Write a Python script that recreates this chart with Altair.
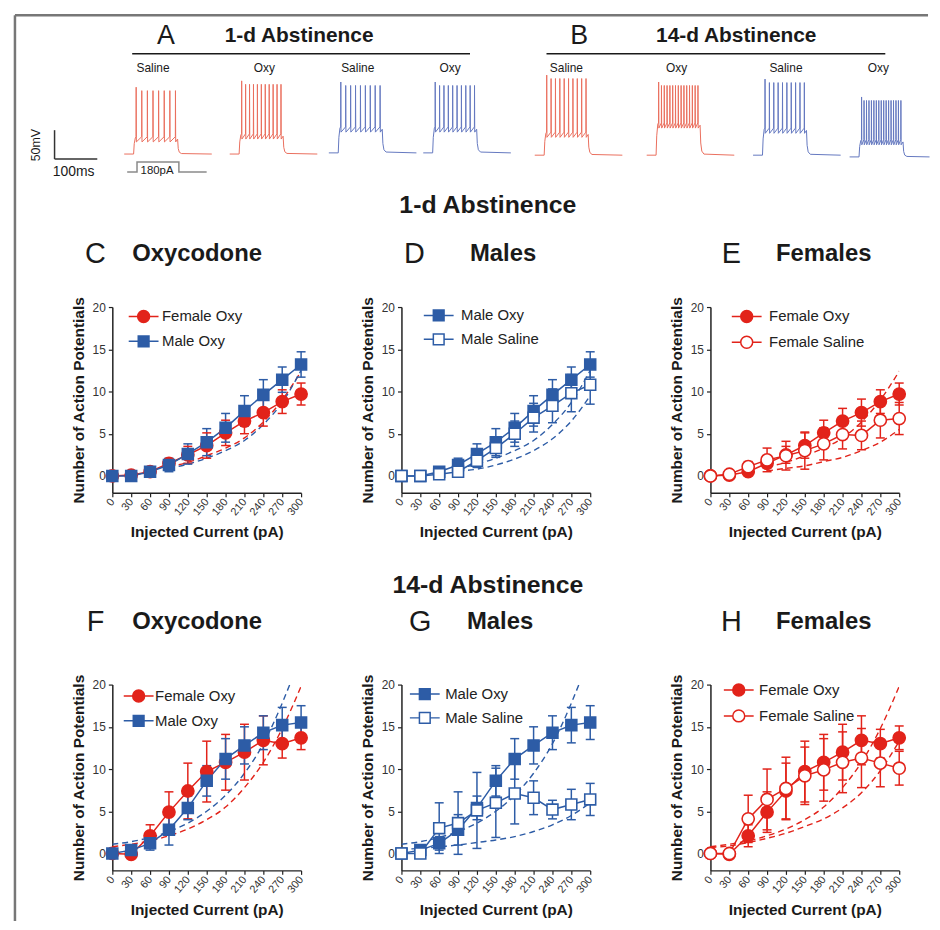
import altair as alt
import pandas as pd

FONT = "Liberation Sans"
RED = "#e2231a"
BLUE = "#2d5ca6"
TRACE_RED = "#ea6f5e"
TRACE_BLUE = "#6478bf"
INK = "#1a1a1a"

# ------------------------------------------------------------------ data
currents = [0, 30, 60, 90, 120, 150, 180, 210, 240, 270, 300]
y_ticks = [0, 5, 10, 15, 20]

# 1-d abstinence (mean, SEM)
f_oxy_1d = [0, 0.1, 0.5, 1.5, 2.5, 3.6, 5.1, 6.5, 7.5, 8.8, 9.7]
f_oxy_1d_sem = [0, 0.1, 0.3, 0.5, 1.0, 1.5, 1.5, 1.5, 1.6, 1.4, 1.3]
m_oxy_1d = [0, 0, 0.5, 1.3, 2.6, 4.0, 5.7, 7.7, 9.6, 11.4, 13.2]
m_oxy_1d_sem = [0, 0.1, 0.3, 0.8, 1.2, 1.6, 1.7, 1.8, 1.8, 1.5, 1.5]
m_sal_1d = [0, 0, 0.2, 0.5, 1.8, 3.3, 5.0, 6.9, 8.3, 9.8, 10.8]
m_sal_1d_sem = [0, 0, 0.2, 0.3, 0.8, 1.1, 1.5, 1.7, 2.0, 2.2, 2.3]
f_sal_1d = [0, 0.2, 1.1, 1.9, 2.4, 3.0, 3.8, 4.9, 4.8, 6.6, 6.8]
f_sal_1d_sem = [0, 0.1, 0.6, 1.4, 1.7, 2.2, 1.9, 1.7, 1.7, 2.1, 1.9]

# 14-d abstinence (mean, SEM)
f_oxy_14d = [0, -0.1, 2.1, 4.9, 7.4, 9.7, 10.8, 12.0, 13.4, 13.0, 13.7]
f_oxy_14d_sem = [0, 0.1, 1.3, 2.4, 3.3, 3.6, 3.3, 3.3, 2.9, 1.7, 1.4]
m_oxy_14d = [0, 0.4, 1.2, 2.8, 5.4, 8.6, 11.2, 12.8, 14.3, 15.2, 15.5]
m_oxy_14d_sem = [0, 0.2, 0.8, 1.8, 1.4, 1.8, 2.4, 2.2, 2.0, 2.1, 2.0]
m_sal_14d = [0, 0, 3.0, 3.6, 5.1, 6.0, 7.1, 6.6, 5.2, 5.8, 6.4]
m_sal_14d_sem = [0, 0, 3.0, 3.7, 4.5, 4.1, 3.6, 2.0, 1.1, 1.8, 1.9]
f_sal_14d = [0, 0, 4.1, 6.4, 7.7, 9.2, 9.9, 10.8, 11.3, 10.7, 10.1]
f_sal_14d_sem = [0, 0, 2.8, 3.6, 3.7, 3.4, 3.7, 3.6, 3.5, 2.8, 2.0]

# dashed fit curves
fit_x_1d = [90, 120, 150, 180, 210, 240, 270, 300]
f_oxy_1d_fit = [1.1, 1.6, 2.4, 3.3, 4.5, 6.4, 9.0, 12.4]
m_oxy_1d_fit = [0.9, 1.4, 2.1, 3.0, 4.2, 6.1, 8.7, 12.5]
m_sal_1d_fit = [0.6, 0.8, 1.3, 2.0, 3.0, 4.4, 6.5, 9.5]
f_sal_1d_fit = [0.6, 0.9, 1.2, 1.7, 2.2, 3.0, 4.0, 5.5]

fit_x_14d = [0, 30, 60, 90, 120, 150, 180, 210, 240, 270, 300]
f_oxy_14d_fit = [0.8, 1.1, 1.5, 2.1, 2.9, 4.0, 5.5, 7.8, 10.8, 14.8, 19.8]
m_oxy_14d_fit_x = [0, 30, 60, 90, 120, 150, 180, 210, 240, 270, 282]
m_oxy_14d_fit = [1.1, 1.4, 1.9, 2.6, 3.6, 5.0, 6.9, 9.5, 13.0, 17.8, 20.0]
m_sal_14d_fit = [0.5, 0.6, 0.8, 1.0, 1.3, 1.6, 2.0, 2.6, 3.4, 4.5, 6.0]
f_sal_14d_fit = [0.7, 0.9, 1.3, 1.8, 2.4, 3.2, 4.1, 5.4, 7.2, 9.8, 13.3]

trace_labels = ["Saline", "Oxy", "Saline", "Oxy", "Saline", "Oxy", "Saline", "Oxy"]
trace_sex = ["F", "F", "M", "M", "F", "F", "M", "M"]
trace_spikes = [8, 11, 9, 10, 10, 15, 10, 17]
trace_base_mv = [-70, -70, -68, -68, -72, -72, -72, -75]
trace_trough_mv = [-49, -44, -32, -32, -41, -25, -34, -54]
trace_peak_mv = [40, 51, 49, 49, 61, 49, 54, 23]
trace_start_ms = [265, 512, 744, 965, 1226, 1488, 1737, 1963]
trace_post_ms = [80, 80, 80, 80, 80, 80, 80, 62]
PRE_MS, STEP_MS = 22, 103

scalebar_ms = 100
scalebar_mv = 50
scalebar_anchor = (102, -78.6)

protocol_t_ms = [272, 295, 295, 393, 393, 458]
protocol_pa = [0, 0, 180, 180, 0, 0]

NAME = {"f_oxy": "Female Oxy", "m_oxy": "Male Oxy", "m_sal": "Male Saline", "f_sal": "Female Saline"}
STROKE = {"f_oxy": RED, "m_oxy": BLUE, "m_sal": BLUE, "f_sal": RED}
FILLC = {"f_oxy": RED, "m_oxy": BLUE, "m_sal": "white", "f_sal": "white"}
MARK = {"f_oxy": "circle", "m_oxy": "square", "m_sal": "square", "f_sal": "circle"}
CIRC_PATH = "M-2.5,0L-1,0M1,0L2.5,0M-1,0A1,1,0,1,0,1,0A1,1,0,1,0,-1,0Z"
SQ_PATH = "M-2.5,0L-0.9,0M0.9,0L2.5,0M-0.9,-0.9L0.9,-0.9L0.9,0.9L-0.9,0.9Z"
LPATH = {"circle": CIRC_PATH, "square": SQ_PATH}

DATA = {
    "1d": {"f_oxy": (f_oxy_1d, f_oxy_1d_sem), "m_oxy": (m_oxy_1d, m_oxy_1d_sem),
           "m_sal": (m_sal_1d, m_sal_1d_sem), "f_sal": (f_sal_1d, f_sal_1d_sem)},
    "14d": {"f_oxy": (f_oxy_14d, f_oxy_14d_sem), "m_oxy": (m_oxy_14d, m_oxy_14d_sem),
            "m_sal": (m_sal_14d, m_sal_14d_sem), "f_sal": (f_sal_14d, f_sal_14d_sem)},
}
FITS = {
    "1d": {"f_oxy": (fit_x_1d, f_oxy_1d_fit), "m_oxy": (fit_x_1d, m_oxy_1d_fit),
           "m_sal": (fit_x_1d, m_sal_1d_fit), "f_sal": (fit_x_1d, f_sal_1d_fit)},
    "14d": {"f_oxy": (fit_x_14d, f_oxy_14d_fit), "m_oxy": (m_oxy_14d_fit_x, m_oxy_14d_fit),
            "m_sal": (fit_x_14d, m_sal_14d_fit), "f_sal": (fit_x_14d, f_sal_14d_fit)},
}

# ------------------------------------------------------------------ panels
PW, PH = 190, 187
xs = alt.Scale(domain=[0, 300], nice=False, zero=False)
ys = alt.Scale(domain=[-2, 20], nice=False, zero=False)
xaxis = alt.Axis(values=currents, title="Injected Current (pA)", labelAngle=-50, labelAlign="right",
                 labelBaseline="middle", labelFont=FONT, labelFontSize=11, labelColor="#333",
                 labelOverlap=False, labelFlush=False, labelPadding=3, titleFont=FONT,
                 titleFontSize=15.5, titleFontWeight="bold", titleColor=INK, titlePadding=8,
                 domainColor="#222", domainWidth=1.5, tickColor="#222", tickWidth=1.2, tickSize=4,
                 grid=False)
yaxis = alt.Axis(values=y_ticks, title="Number of Action Potentials", labelFont=FONT, labelFontSize=12,
                 labelColor="#333", labelPadding=3, titleFont=FONT, titleFontSize=15.5,
                 titleFontWeight="bold", titleColor=INK, titlePadding=6, domainColor="#222",
                 domainWidth=1.5, tickColor="#222", tickWidth=1.2, tickSize=4, grid=False)


def panel(keys, day, legx, legy, loff):
    dom = [NAME[k] for k in keys]
    rows, caps, fits = [], [], []
    for k in keys:
        vals, sem = DATA[day][k]
        for c, v, e in zip(currents, vals, sem):
            rows.append({"series": NAME[k], "x": c, "y": v, "lo": v - e, "hi": v + e})
            if e > 0:
                caps.append({"series": NAME[k], "x": c, "y": v - e})
                caps.append({"series": NAME[k], "x": c, "y": v + e})
        fx, fy = FITS[day][k]
        for a, b in zip(fx, fy):
            fits.append({"series": NAME[k], "x": a, "y": b})
    pts, cap_df, fit_df = pd.DataFrame(rows), pd.DataFrame(caps), pd.DataFrame(fits)

    X = alt.X("x:Q", scale=xs, axis=xaxis)
    Y = alt.Y("y:Q", scale=ys, axis=yaxis)
    col = alt.Color("series:N", scale=alt.Scale(domain=dom, range=[STROKE[k] for k in keys]), legend=None)

    leg = alt.Legend(orient="none", legendX=legx, legendY=legy, title=None, labelFont=FONT,
                     labelFontSize=15, labelColor="#222", symbolSize=144, symbolStrokeWidth=1.5,
                     symbolOpacity=1, labelOffset=loff, rowPadding=7, padding=0,
                     symbolFillColor="white", symbolStrokeColor="black", labelLimit=300)
    legend_layer = alt.Chart(pts).transform_filter("false").mark_point(opacity=1).encode(
        shape=alt.Shape("series:N", scale=alt.Scale(domain=dom, range=[LPATH[MARK[k]] for k in keys]), legend=leg),
        stroke=alt.Stroke("series:N", scale=alt.Scale(domain=dom, range=[STROKE[k] for k in keys]), legend=leg),
        fill=alt.Fill("series:N", scale=alt.Scale(domain=dom, range=[FILLC[k] for k in keys]), legend=leg),
    )
    fit_layer = alt.Chart(fit_df).mark_line(strokeDash=[6, 4], strokeWidth=1.4, interpolate="monotone",
                                            clip=True).encode(x=X, y=Y, color=col)
    err_layer = alt.Chart(pts).mark_rule(strokeWidth=1.5).encode(
        x=X, y=alt.Y("lo:Q", scale=ys, axis=yaxis), y2="hi:Q", color=col)
    cap_layer = alt.Chart(cap_df).mark_tick(orient="horizontal", size=9, thickness=1.5, opacity=1).encode(
        x=X, y=Y, color=col)
    line_layer = alt.Chart(pts).mark_line(strokeWidth=1.5).encode(x=X, y=Y, color=col)
    layers = [legend_layer, fit_layer, err_layer, cap_layer, line_layer]
    for k in keys:
        size = 150 if MARK[k] == "circle" else 121
        layers.append(
            alt.Chart(pts).transform_filter(alt.datum.series == NAME[k]).mark_point(
                shape=MARK[k], size=size, filled=True, fill=FILLC[k], stroke=STROKE[k],
                strokeWidth=1.6, opacity=1).encode(x=X, y=Y))
    return alt.layer(*layers).properties(width=PW, height=PH)


pC = panel(["f_oxy", "m_oxy"], "1d", 24, 2, 11)
pD = panel(["m_oxy", "m_sal"], "1d", 30, 1, 15)
pE = panel(["f_oxy", "f_sal"], "1d", 29, 2, 15)
pF = panel(["f_oxy", "m_oxy"], "14d", 19, 4, 9)
pG = panel(["m_oxy", "m_sal"], "14d", 16, 2, 13)
pH = panel(["f_oxy", "f_sal"], "14d", 21, -2, 13)

# ------------------------------------------------------------------ overlay (traces + headings)
ONE = pd.DataFrame({"k": [0]})


def txt(s, x, y, size, weight="normal", align="center", angle=0, color=INK):
    return alt.Chart(ONE).mark_text(text=s, font=FONT, fontSize=size, fontWeight=weight, align=align,
                                    baseline="middle", angle=angle, color=color).encode(
        x=alt.value(x), y=alt.value(y))


def hrule(x1, x2, y, color=INK, w=1.5):
    return alt.Chart(ONE).mark_rule(color=color, strokeWidth=w).encode(
        x=alt.value(x1), x2=alt.value(x2), y=alt.value(y))


def vrule(x, y1, y2, color=INK, w=1.5):
    return alt.Chart(ONE).mark_rule(color=color, strokeWidth=w).encode(
        x=alt.value(x), y=alt.value(y1), y2=alt.value(y2))


trace_rows = []
for i in range(len(trace_spikes)):
    start = trace_start_ms[i]
    onset = start + PRE_MS
    off = onset + STEP_MS
    end = off + trace_post_ms[i]
    base, trough, peak, n = trace_base_mv[i], trace_trough_mv[i], trace_peak_mv[i], trace_spikes[i]
    thr = trough + 9
    seq = [(start, base), (onset, base), (onset + 1.5, base + 0.6 * (thr - base)), (onset + 4, thr - 2)]
    first, last = onset + 6, off - 5
    gap = (last - first) / (n - 1)
    for j in range(n):
        ts = first + j * gap
        seq += [(ts - 0.3, thr), (ts, peak + (6 if j == 0 else 0)), (ts + 0.5, trough)]
    seq += [(off, trough + 5), (off + 1.5, base + 0.45 * (trough - base)),
            (off + 4, base + 0.15 * (trough - base)), (off + 9, base + 0.04 * (trough - base)), (end, base)]
    color = TRACE_RED if trace_sex[i] == "F" else TRACE_BLUE
    for o, (t, v) in enumerate(seq):
        trace_rows.append({"trace": i, "o": o, "t": t, "v": v, "col": color})
traces_df = pd.DataFrame(trace_rows)

tx = alt.Scale(domain=[0, 2000], range=[0, 860])
ty = alt.Scale(domain=[-100, 100], range=[158.4, 42.4])
traces = alt.Chart(traces_df).mark_line(strokeWidth=1).encode(
    x=alt.X("t:Q", scale=tx, axis=None), y=alt.Y("v:Q", scale=ty, axis=None),
    detail="trace:N", order="o:Q", color=alt.Color("col:N", scale=None))

ax, ay = scalebar_anchor
sb_df = pd.DataFrame({"x": [ax, ax], "x2": [ax, ax + scalebar_ms],
                      "y": [ay, ay], "y2": [ay + scalebar_mv, ay]})
scalebar = alt.Chart(sb_df).mark_rule(color="#333", strokeWidth=1.5).encode(
    x=alt.X("x:Q", scale=tx, axis=None), x2="x2:Q",
    y=alt.Y("y:Q", scale=ty, axis=None), y2="y2:Q")

prot_df = pd.DataFrame({"t": protocol_t_ms, "pa": protocol_pa, "o": list(range(len(protocol_pa)))})
protocol = alt.Chart(prot_df).mark_line(color="#8a8a8a", strokeWidth=1.5).encode(
    x=alt.X("t:Q", scale=tx, axis=None),
    y=alt.Y("pa:Q", scale=alt.Scale(domain=[0, 180], range=[159, 149]), axis=None),
    order="o:Q")

label_x = [143, 255, 349, 442, 559, 670, 780, 873]
overlay_layers = [traces, scalebar, protocol,
                  txt("A", 156, 22, 27), txt("1-d Abstinence", 290, 22, 21, "bold"),
                  txt("B", 572, 22, 27), txt("14-d Abstinence", 730, 22, 21, "bold"),
                  hrule(122, 462, 40), hrule(539, 880, 40),
                  txt("50mV", 25, 132, 12.5, angle=270), txt("100ms", 63, 159, 14),
                  txt("180pA", 147, 158, 11.5),
                  txt("1-d Abstinence", 480, 192, 25, "bold"),
                  txt("14-d Abstinence", 480, 575, 25, "bold")]
for lx_, lab in zip(label_x, trace_labels):
    overlay_layers.append(txt(lab, lx_, 54, 12))
for letter, name, lx_, nx_, yy in [("C", "Oxycodone", 85, 122, 242), ("D", "Males", 406, 462, 242),
                                   ("E", "Females", 725, 770, 242), ("F", "Oxycodone", 85, 122, 612),
                                   ("G", "Males", 412, 459, 612), ("H", "Females", 725, 770, 612)]:
    overlay_layers.append(txt(letter, lx_, yy, 29))
    overlay_layers.append(txt(name, nx_, yy, 24, "bold", align="left"))
overlay_layers.append(hrule(4, 923, 1.3, "#777", 2.5))
overlay_layers.append(vrule(4, 1.3, 913, "#777", 2.5))

overlay = alt.layer(*overlay_layers).resolve_scale(y="independent").properties(width=102, height=295)


def spacer(w, h):
    return alt.Chart(ONE).mark_point(opacity=0).encode(x=alt.value(0), y=alt.value(0)).properties(
        width=w, height=h)


COLW = [102, 190, 101, 190, 121, 190]
ROWH = [295, 187, 193, 187]
cells = [overlay] + [spacer(COLW[c], ROWH[0]) for c in range(1, 6)]
cells += [spacer(COLW[0], ROWH[1]), pC, spacer(COLW[2], ROWH[1]), pD, spacer(COLW[4], ROWH[1]), pE]
cells += [spacer(COLW[c], ROWH[2]) for c in range(6)]
cells += [spacer(COLW[0], ROWH[3]), pF, spacer(COLW[2], ROWH[3]), pG, spacer(COLW[4], ROWH[3]), pH]

chart = alt.concat(*cells, columns=6, spacing=0, bounds="flush").resolve_scale(
    color="independent", stroke="independent", fill="independent", shape="independent"
).resolve_legend(stroke="independent", fill="independent", shape="independent").properties(
    padding=0, background="white").configure_view(stroke=None)

chart.save("out.html", embed_options={"renderer": "svg", "actions": False})
